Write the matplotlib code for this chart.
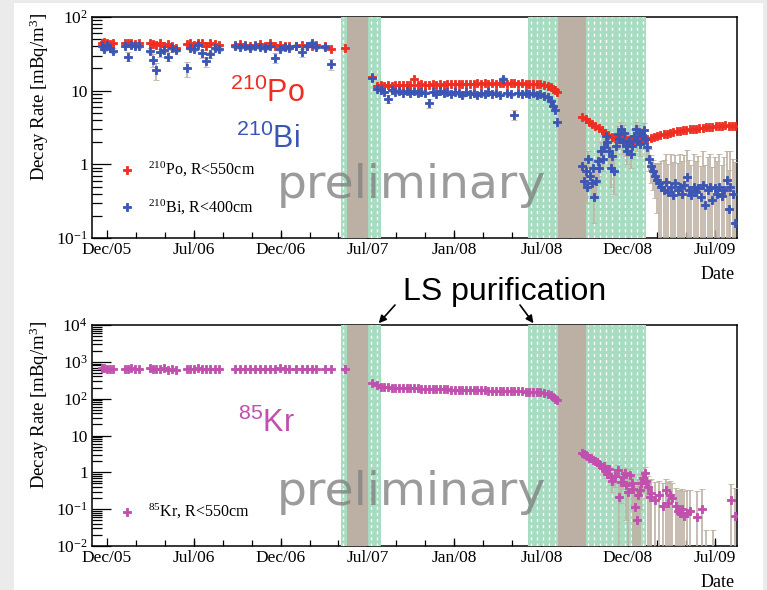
import numpy as np
import matplotlib
matplotlib.use("Agg")
import matplotlib.pyplot as plt
from matplotlib.patches import Rectangle
from matplotlib.ticker import LogLocator, NullFormatter

plt.rcParams['font.family'] = 'Liberation Serif'

# x = days since 1 Dec 2005
tick_days = [0, 187, 374, 561, 748, 935, 1121, 1308]
tick_labels = ['Dec/05', 'Jul/06', 'Dec/06', 'Jul/07', 'Jan/08', 'Jul/08', 'Dec/08', 'Jul/09']

# shaded periods (start day, end day)
green_bands = [(503, 516), (563, 589), (907, 970), (1030, 1161)]
brown_bands = [(516, 563), (970, 1030)]

# --- before the first purification
run1_days = [-11, -6, 0, 6, 13, 39, 45, 52, 60, 69,
             92, 99, 105, 114, 123, 131, 140, 148,
             172, 178, 187, 196, 204, 213, 221, 232, 241,
             275, 286, 297, 307, 318, 329, 340, 350, 361, 372, 383, 393,
             408, 419, 430, 441, 449, 469, 482, 512]
po_run1 = [45, 46, 44, 43, 44, 44, 45, 44, 43, 45,
           45, 43, 42, 44, 40, 43, 41, 38,
           43, 44, 42, 44, 45, 41, 44, 43, 42,
           42, 43, 42, 41, 42, 43, 41, 44, 40, 42, 41, 40,
           41, 42, 40, 41, 42, 40, 37, 38]
bi_run1 = [40, 37, 42, 38, 35, 41, 29, 42, 41, 40,
           35, 26, 19, 33, 36, 29, 38, 36,
           20, 38, 37, 42, 32, 25, 31, 38, 37,
           40, 39, 41, 38, 40, 39, 38, 40, 28, 37, 39, 38,
           41, 33, 40, 45, 39, 39, 23, np.nan]
bi_run1_err = [2, 2, 2, 2, 3, 2, 4, 2, 2, 2,
               3, 5, 5, 4, 3, 4, 2, 3,
               4.5, 2, 2, 2, 4, 4, 3, 2, 2,
               2, 2, 2, 2, 2, 2, 2, 2, 4, 2, 2, 2,
               2, 4, 2, 2, 2, 2, 4, 0]
kr_run1 = [660, 680, 640, 650, 630, 650, 640, 660, 630, 650,
           670, 650, 640, 620, 660, 600, 640, 610,
           650, 640, 620, 660, 650, 640, 620, 650, 640,
           640, 650, 630, 640, 650, 640, 630, 650, 640, 660, 640, 630,
           650, 640, 630, 650, 640, 640, 650, 650]

# --- between the two purification campaigns
run2_days = [570, 581, 589, 597, 605, 613, 621, 629, 637, 645,
             653, 661, 669, 677, 685, 693, 701, 709, 717, 725,
             733, 741, 749, 757, 765, 773, 781, 789, 797, 805,
             813, 821, 829, 837, 845, 853, 861, 869, 877, 885,
             893, 901, 909, 917, 925, 933, 941, 949, 955, 960,
             964, 968]
po_run2 = [15.3, 11.6, 11.9, 11.5, 11.8, 11.7, 12.0, 11.8, 11.9, 12.1,
           11.8, 14.3, 12.0, 12.2, 11.9, 12.1, 12.2, 12.0, 12.3, 12.1,
           12.3, 12.4, 12.2, 12.4, 12.3, 12.5, 12.3, 12.5, 12.6, 12.4,
           12.6, 12.5, 12.7, 12.5, 12.6, 12.7, 12.5, 12.6, 12.7, 12.5,
           12.6, 12.4, 12.5, 12.3, 12.4, 12.2, 12.0, 11.6, 11.1, 10.6,
           10.1, 9.6]
bi_run2 = [15.0, 10.6, 10.2, 9.6, 7.7, 10.1, 9.5, 10.0, 9.3, 9.8,
           9.4, 9.9, 9.2, 9.7, 9.4, 6.8, 9.6, 9.1, 9.8, 9.3,
           9.7, 9.0, 9.6, 9.2, 8.7, 9.5, 9.0, 9.4, 8.8, 9.3,
           8.9, 9.5, 9.0, 9.4, 8.8, 14.4, 9.2, 8.9, 4.7, 9.3,
           9.0, 9.4, 8.9, 9.2, 8.8, 9.0, 8.5, 8.1, 7.3, 6.2,
           5.5, 3.7]
bi_run2_err = [0.8, 0.4, 0.4, 0.4, 1.0, 0.4, 0.4, 0.4, 0.4, 0.4,
               0.4, 0.4, 0.4, 0.4, 0.4, 0.9, 0.4, 0.4, 0.4, 0.4,
               0.4, 0.4, 0.4, 0.4, 0.4, 0.4, 0.4, 0.4, 0.4, 0.4,
               0.4, 0.4, 0.4, 0.4, 0.4, 0.8, 0.4, 0.4, 0.7, 0.4,
               0.4, 0.4, 0.4, 0.4, 0.4, 0.4, 0.4, 0.4, 0.4, 0.4,
               0.4, 0.5]
kr_run2 = [264, 237, 212, 205, 202, 200, 198, 196, 195, 193,
           192, 190, 189, 188, 186, 185, 184, 182, 181, 180,
           178, 177, 176, 175, 174, 172, 171, 170, 169, 168,
           167, 166, 165, 164, 163, 162, 161, 160, 159, 158,
           157, 156, 155, 154, 152, 149, 144, 134, 122, 110,
           101, 93]

# --- after the second purification
po_days3 = [1023, 1030, 1037, 1044, 1051, 1058, 1065, 1072, 1079, 1086,
            1093, 1100, 1107, 1114, 1121, 1128, 1135, 1142, 1149, 1156,
            1163, 1170, 1177, 1184, 1191, 1198, 1205, 1212, 1219, 1226,
            1233, 1240, 1247, 1254, 1261, 1268, 1275, 1282, 1289, 1296,
            1303, 1310, 1317, 1324, 1331, 1338, 1345, 1352]
po_run3 = [4.4, 4.1, 3.8, 3.5, 3.3, 3.1, 2.9, 2.7, 2.5, 2.35,
           2.3, 2.25, 2.2, 2.2, 2.15, 2.2, 2.15, 2.1, 2.15, 2.15,
           2.2, 2.25, 2.35, 2.4, 2.5, 2.55, 2.6, 2.7, 2.75, 2.8,
           2.85, 2.9, 2.95, 3.0, 3.0, 3.05, 3.1, 3.15, 3.2, 3.2,
           3.25, 3.3, 3.3, 3.35, 3.4, 3.35, 3.3, 3.3]
bi_days3 = [1023, 1026, 1030, 1033, 1036, 1039, 1043, 1046, 1049, 1053,
            1056, 1060, 1063, 1067, 1070, 1074, 1077, 1081, 1085, 1088,
            1092, 1096, 1099, 1103, 1106, 1110, 1113, 1117, 1120, 1124,
            1127, 1131, 1134, 1138, 1141, 1145, 1148, 1152, 1155, 1159,
            1163, 1167, 1171, 1175, 1179, 1183, 1188, 1193, 1198, 1203,
            1208, 1213, 1218, 1223, 1228, 1233, 1238, 1243, 1248, 1253,
            1258, 1263, 1268, 1273, 1278, 1283, 1288, 1293, 1298, 1303,
            1308, 1313, 1318, 1323, 1328, 1335, 1338, 1342, 1347, 1351]
bi_run3 = [0.95, 0.6, 0.8, 0.5, 1.2, 0.7, 0.55, 0.9, 0.36, 0.6,
           1.1, 0.9, 1.5, 1.2, 1.7, 2.4, 2.0, 1.5, 0.9, 1.3,
           0.8, 1.8, 2.6, 2.2, 3.0, 2.0, 2.7, 1.8, 1.5, 2.1,
           1.4, 1.8, 2.4, 3.0, 2.1, 2.7, 1.9, 2.5, 2.9, 2.2,
           1.7, 1.2, 0.95, 0.8, 0.7, 0.62, 0.55, 0.5, 0.45, 0.57,
           0.42, 0.5, 0.38, 0.55, 0.45, 0.5, 0.4, 0.52, 0.67, 0.45,
           0.38, 0.5, 0.42, 0.48, 0.36, 0.52, 0.28, 0.45, 0.5, 0.33,
           0.47, 0.4, 0.5, 0.37, 0.45, 0.61, 0.25, 0.5, 0.4, 0.16]
bi_run3_err = [0.25, 0.2, 0.25, 0.2, 0.3, 0.25, 0.2, 0.3, 0.2, 0.25,
               0.4, 0.35, 0.5, 0.4, 0.5, 0.6, 0.5, 0.5, 0.4, 0.5,
               0.4, 0.5, 0.7, 0.6, 0.7, 0.6, 0.7, 0.5, 0.5, 0.6,
               0.5, 0.6, 0.6, 0.7, 0.6, 0.7, 0.6, 0.6, 0.7, 0.6,
               0.5, 0.4, 0.4, 0.35, 0.35, 0.4, 0.5, 0.6, 0.7, 0.8,
               0.6, 0.9, 0.7, 0.8, 0.6, 0.9, 0.7, 0.8, 0.9, 0.7,
               0.6, 0.9, 0.7, 0.8, 0.6, 1.0, 0.7, 0.8, 0.9, 0.6,
               0.8, 0.7, 0.9, 0.6, 0.8, 0.9, 0.6, 1.0, 0.8, 0.9]
kr_days3 = [1023, 1027, 1030, 1034, 1038, 1042, 1046, 1050, 1054, 1058,
            1062, 1066, 1069, 1073, 1076, 1081, 1085, 1088, 1093, 1099,
            1103, 1107, 1111, 1115, 1118, 1122, 1125, 1129, 1132, 1136,
            1140, 1144, 1147, 1150, 1153, 1157, 1160, 1164, 1168, 1172,
            1179, 1189, 1196, 1204, 1207, 1212, 1217, 1224, 1229, 1233,
            1238, 1243, 1248, 1254, 1269, 1280, 1290, 1305, 1344, 1351]
kr_run3 = [3.4, 3.1, 2.9, 2.7, 2.5, 2.4, 2.2, 2.0, 1.9, 1.7,
           1.6, 1.4, 1.5, 1.1, 0.9, 1.2, 0.75, 0.6, 0.8, 1.15,
           0.21, 0.55, 0.75, 0.95, 0.45, 0.3, 0.85, 0.5, 0.35, 0.115,
           0.051, 0.25, 0.33, 0.5, 0.7, 0.96, 0.6, 0.4, 0.21, 0.28,
           0.18, 0.25, 0.12, 0.33, 0.15, 0.25, 0.2, 0.12, 0.09, 0.079,
           0.1, 0.065, 0.08, 0.09, 0.06, 0.10, 0.004, 0.004, 0.18, 0.065]
kr_run3_err = [0.1, 0.1, 0.1, 0.1, 0.1, 0.1, 0.1, 0.1, 0.1, 0.1,
               0.15, 0.15, 0.2, 0.2, 0.2, 0.3, 0.3, 0.3, 0.4, 0.4,
               0.3, 0.4, 0.4, 0.4, 0.4, 0.4, 0.4, 0.4, 0.4, 0.3,
               0.3, 0.4, 0.4, 0.4, 0.4, 0.4, 0.4, 0.4, 0.4, 0.4,
               0.35, 0.35, 0.4, 0.35, 0.4, 0.35, 0.3, 0.25, 0.25, 0.25,
               0.25, 0.25, 0.25, 0.25, 0.25, 0.25, 0.023, 0.023, 0.3, 0.3]

RED = '#ee2e22'
BLUE = '#3a55b4'
MAGENTA = '#c04fae'
TAN = '#bfb2a4'
BROWN = '#bcb0a4'
GREEN = '#a7dcc1'
SANS = 'Liberation Sans'
MS = 5.5

W, H = 767, 590
fig = plt.figure(figsize=(W / 100, H / 100), dpi=100)
fig.patch.set_facecolor('#ebebeb')
fig.add_artist(Rectangle((14 / W, 0), 749 / W, 587 / H, transform=fig.transFigure,
                         facecolor='white', edgecolor='none', zorder=0))

ax_top = fig.add_axes([92 / W, 1 - 238 / H, 645 / W, 221 / H])
ax_bot = fig.add_axes([92 / W, 1 - 546 / H, 645 / W, 221 / H])


def setup(ax, ylim, yticks, ylabels, date_y):
    ax.set_xlim(-32, 1356)
    ax.set_yscale('log')
    ax.set_ylim(*ylim)
    ax.set_xticks(tick_days, tick_labels)
    ax.set_xticks(np.arange(62.3, 1356, 62.3), minor=True)
    ax.set_yticks(yticks, ylabels)
    ax.yaxis.set_minor_locator(LogLocator(subs=np.arange(2, 10), numticks=20))
    ax.yaxis.set_minor_formatter(NullFormatter())
    ax.tick_params(which='both', direction='in', labelsize=12.5, width=0.9)
    ax.tick_params(axis='y', which='major', length=14, pad=3)
    ax.tick_params(axis='y', which='minor', length=7)
    ax.tick_params(axis='x', which='major', length=6, pad=3)
    ax.tick_params(axis='x', which='minor', length=4)
    for s in ax.spines.values():
        s.set_linewidth(1.1)
    ax.text(-0.081, 1.02, r'Decay Rate [mBq/m$\mathregular{^3}$]', rotation=90,
            ha='center', va='top', fontsize=13.5, transform=ax.transAxes)
    ax.text(0.997, date_y, 'Date', ha='right', va='center', fontsize=13,
            transform=ax.transAxes)
    # purification periods
    for a, b in green_bands:
        ax.axvspan(a, b, color=GREEN, lw=0, zorder=2.6)
        xs = np.arange(a + 6, b - 2, 13)
        ax.vlines(xs, 0, 1, transform=ax.get_xaxis_transform(), colors='white',
                  lw=1, linestyles=[(0, (2.2, 2.2))], zorder=2.7)
    for a, b in brown_bands:
        ax.axvspan(a, b, color=BROWN, lw=0, zorder=2.6)
    ax.text(0.287, date_y + 0.35, 'preliminary', fontsize=34, family='DejaVu Sans',
            color='#828282', alpha=0.8, va='baseline', transform=ax.transAxes, zorder=6)


def series(ax, days, vals, errs, color):
    ax.errorbar(days, vals, yerr=errs, fmt='P', ms=MS, mew=0.6, mec=color, color=color,
                ecolor=TAN, elinewidth=1.2, capsize=2, capthick=1.2, zorder=4)


setup(ax_top, (0.1, 100), [0.1, 1, 10, 100],
      [r'$\mathregular{10^{-1}}$', '1', '10', r'$\mathregular{10^{2}}$'], -0.167)
setup(ax_bot, (0.01, 1e4), [0.01, 0.1, 1, 10, 100, 1e3, 1e4],
      [r'$\mathregular{10^{-2}}$', r'$\mathregular{10^{-1}}$', '1', '10',
       r'$\mathregular{10^{2}}$', r'$\mathregular{10^{3}}$', r'$\mathregular{10^{4}}$'], -0.163)

# top panel: 210Po and 210Bi
series(ax_top, run1_days, po_run1, None, RED)
series(ax_top, run2_days, po_run2, None, RED)
series(ax_top, po_days3, po_run3, None, RED)
series(ax_top, run1_days, bi_run1, bi_run1_err, BLUE)
series(ax_top, run2_days, bi_run2, bi_run2_err, BLUE)
series(ax_top, bi_days3, bi_run3, bi_run3_err, BLUE)

# bottom panel: 85Kr
series(ax_bot, run1_days, kr_run1, None, MAGENTA)
series(ax_bot, run2_days, kr_run2, None, MAGENTA)
series(ax_bot, kr_days3, kr_run3, kr_run3_err, MAGENTA)

# big isotope labels
ax_top.text(0.214, 0.615, r'$\mathregular{^{210}}$Po', color=RED, fontsize=22,
            family=SANS, va='baseline', transform=ax_top.transAxes, zorder=6)
ax_top.text(0.223, 0.407, r'$\mathregular{^{210}}$Bi', color=BLUE, fontsize=22,
            family=SANS, va='baseline', transform=ax_top.transAxes, zorder=6)
ax_bot.text(0.226, 0.516, r'$\mathregular{^{85}}$Kr', color=MAGENTA, fontsize=22,
            family=SANS, va='baseline', transform=ax_bot.transAxes, zorder=6)

# legends
legend_rows = [(ax_top, 0.308, RED, r'$\mathregular{^{210}}$Po, R<550cm'),
               (ax_top, 0.140, BLUE, r'$\mathregular{^{210}}$Bi, R<400cm'),
               (ax_bot, 0.154, MAGENTA, r'$\mathregular{^{85}}$Kr, R<550cm')]
for ax, y, c, label in legend_rows:
    ax.plot([0.054], [y], 'P', ms=MS, mew=0.6, mec=c, color=c,
            transform=ax.transAxes, zorder=6)
    ax.text(0.087, y, label, fontsize=11.5, va='center', transform=ax.transAxes, zorder=6)

# LS purification annotation
fig.text(505 / W, 1 - 292 / H, 'LS purification', fontsize=23, family=SANS,
         ha='center', va='center')
for x_tip, tail in [(585, (395, H - 305)), (918, (520, H - 305))]:
    ax_bot.annotate('', xy=(x_tip, 1.008), xycoords=('data', 'axes fraction'),
                    xytext=tail, textcoords='figure pixels', annotation_clip=False,
                    arrowprops=dict(arrowstyle='-|>', color='black', lw=1.2,
                                    mutation_scale=11, shrinkA=0, shrinkB=0))

fig.savefig('out.png', dpi=100)
